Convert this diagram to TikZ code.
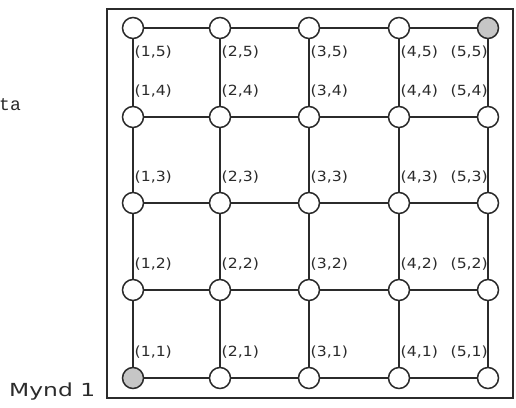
\documentclass[tikz,border=0pt]{standalone}
\usepackage{fontspec}
\setmainfont{DejaVu Sans}
\newfontfamily\typefont{Liberation Mono}
\definecolor{ink}{HTML}{2B2B2B}
\begin{document}
\begin{tikzpicture}[x=1pt,y=-1pt,
  vertex/.style={circle,draw=ink,line width=1.5pt,fill=white,minimum size=21pt,inner sep=0pt},
  v11/.style={fill=gray!45},
  v55/.style={fill=gray!45},
  link/.style={draw=ink,line width=1.4pt},
  coord/.style={font=\fontsize{14}{14}\selectfont,text=ink,inner sep=0pt},
  frame/.style={draw=ink,line width=2pt}]
\useasboundingbox (0,0) rectangle (516,407);

% outer frame
\draw[frame] (107,9) rectangle (513,398);

% grid points
\foreach \i/\x in {1/133,2/220,3/309,4/399,5/488}
  \foreach \j/\y in {1/378,2/290,3/203,4/117,5/28}
    \node[vertex,v\i\j/.try] (n\i\j) at (\x,\y) {};

% horizontal and vertical links
\foreach \i/\k in {1/2,2/3,3/4,4/5}
  \foreach \j in {1,...,5} {
    \draw[link] (n\i\j) -- (n\k\j);
    \draw[link] (n\j\i) -- (n\j\k);
  }

% coordinate labels
\newcommand{\pairtext}[2]{\scalebox{1.12}[1]{(#1,#2)}}
\foreach \i/\x in {1/133,2/220,3/309,4/399}
  \foreach \j/\y in {1/378,2/290,3/203,4/117}
    \node[coord,anchor=west] (l\i\j) at (\x+1.5,\y-26) {\pairtext{\i}{\j}};
\foreach \i/\x in {1/133,2/220,3/309,4/399}
  \node[coord,anchor=west] (l\i5) at (\x+1.5,28+24) {\pairtext{\i}{5}};
\foreach \j/\y in {1/378,2/290,3/203,4/117}
  \node[coord,anchor=east] (l5\j) at (488,\y-26) {\pairtext{5}{\j}};
\node[coord,anchor=east] (l55) at (488,28+24) {\pairtext{5}{5}};

% side texts
\node[anchor=base west,inner sep=0pt,text=ink,font=\typefont\fontsize{18}{18}\selectfont] (side) at (-1,110) {ta};
\node[anchor=base west,inner sep=0pt,text=ink,font=\fontsize{18}{18}\selectfont] (caption) at (9,396) {\scalebox{1.3}[1]{Mynd 1}};
\end{tikzpicture}
\end{document}
